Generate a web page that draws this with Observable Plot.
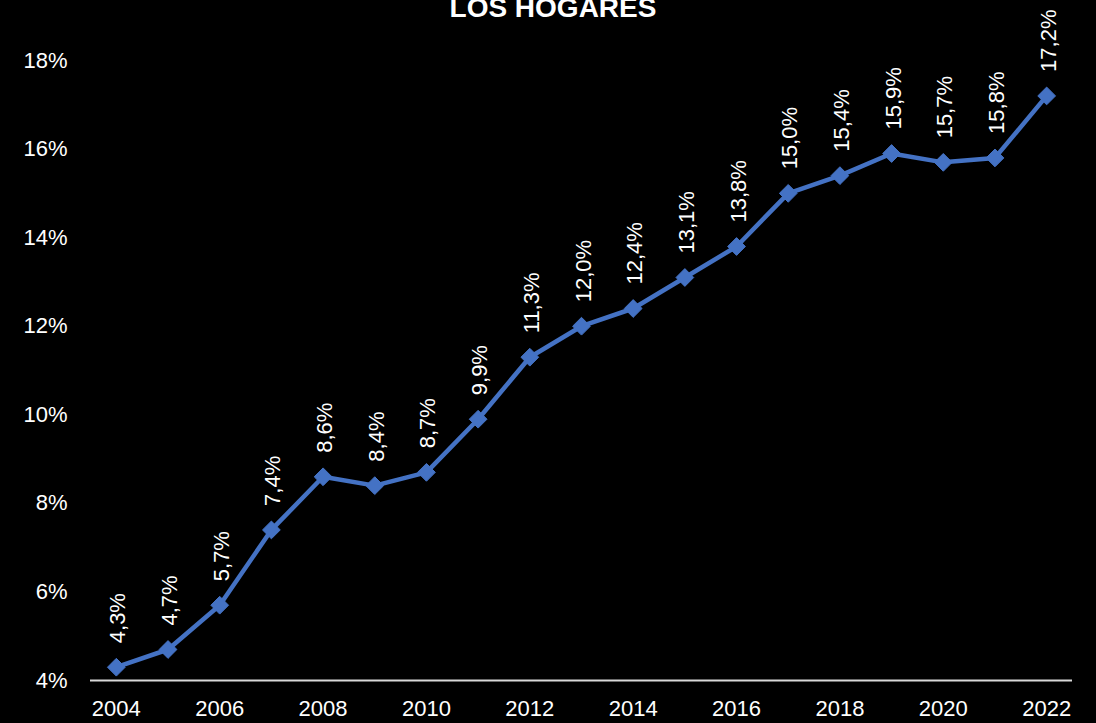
<!DOCTYPE html>
<html>
<head>
<meta charset="utf-8">
<script src="https://cdn.jsdelivr.net/npm/d3@7"></script>
<script src="https://cdn.jsdelivr.net/npm/@observablehq/plot@0.6"></script>
<style>
  html, body { margin: 0; padding: 0; background: #000; overflow: hidden; }
  #wrap { position: relative; width: 1096px; height: 723px; }
  #title { position: absolute; top: -6px; left: 0; width: 1106px; text-align: center;
           font: bold 28px "Liberation Sans", Arial, sans-serif; line-height: 28px; color: #fff; z-index: 2; }
  svg { overflow: visible; }
</style>
</head>
<body>
<div id="wrap">
  <div id="title">LOS HOGARES</div>
  <div id="chart"></div>
</div>
<script>
const years = [2004, 2005, 2006, 2007, 2008, 2009, 2010, 2011, 2012, 2013, 2014, 2015, 2016, 2017, 2018, 2019, 2020, 2021, 2022];
const values = [4.3, 4.7, 5.7, 7.4, 8.6, 8.4, 8.7, 9.9, 11.3, 12.0, 12.4, 13.1, 13.8, 15.0, 15.4, 15.9, 15.7, 15.8, 17.2];
const yTicks = [4, 6, 8, 10, 12, 14, 16, 18];
const xTicks = [2004, 2006, 2008, 2010, 2012, 2014, 2016, 2018, 2020, 2022];

const data = years.map((y, i) => ({year: y, value: values[i]}));
const fmt = v => v.toFixed(1).replace(".", ",") + "%";

const chart = Plot.plot({
  width: 1096,
  height: 723,
  marginTop: 60,
  marginBottom: 43,
  marginLeft: 90,
  marginRight: 24,
  style: {background: "#000", color: "#fff", fontFamily: "'Liberation Sans', Arial, sans-serif", fontSize: "22px"},
  x: {domain: [2003.5, 2022.5], ticks: xTicks, tickFormat: d => String(d), tickSize: 0, tickPadding: 20, label: null},
  y: {domain: [4, 18], ticks: yTicks, tickFormat: d => d + "%", tickSize: 0, tickPadding: 23, label: null},
  marks: [
    Plot.ruleY([4], {stroke: "#d9d9d9", strokeWidth: 2}),
    Plot.line(data, {x: "year", y: "value", stroke: "#4472C4", strokeWidth: 4.5}),
    Plot.dot(data, {x: "year", y: "value", symbol: "diamond2", r: 8, fill: "#4472C4", stroke: "#4472C4", strokeWidth: 1}),
    Plot.text(data, {x: "year", y: "value", text: d => fmt(d.value), rotate: -90, textAnchor: "start", dy: -24, dx: 2, fill: "#fff", fontSize: 22})
  ]
});
document.getElementById("chart").appendChild(chart);
</script>
</body>
</html>
